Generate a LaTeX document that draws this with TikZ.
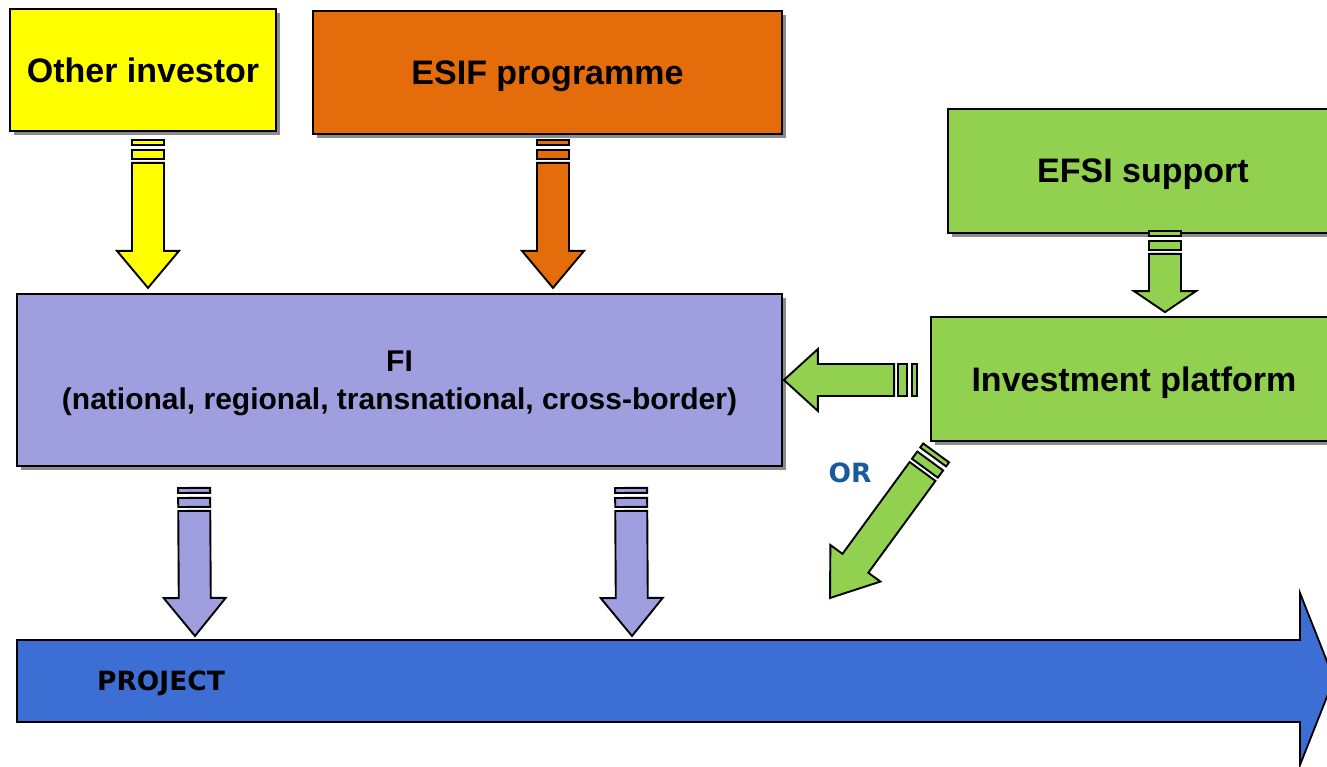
\documentclass[tikz,border=0pt]{standalone}
\usepackage{fontspec}
\setmainfont{Liberation Sans}
\newfontfamily\verd{DejaVu Sans}
\usetikzlibrary{calc,positioning,shadows}

\definecolor{invyellow}{HTML}{FFFF00}
\definecolor{esiforange}{HTML}{E46C0A}
\definecolor{efsigreen}{HTML}{92D050}
\definecolor{filav}{HTML}{9F9FDF}
\definecolor{projblue}{HTML}{3C6ED3}
\definecolor{orblue}{HTML}{1B5A9A}

% striped block arrow: fill colour, head length, from, to
\newcommand{\sarrow}[4]{%
  \path #3 coordinate (sa) #4 coordinate (sb);
  \pgfpointdiff{\pgfpointanchor{sa}{center}}{\pgfpointanchor{sb}{center}}%
  \pgfgetlastxy{\dx}{\dy}%
  \pgfmathsetmacro\ang{atan2(\dy,\dx)}%
  \pgfmathsetmacro\len{veclen(\dx,\dy)}%
  \pgfmathsetmacro\hb{\len-#2}%
  \begin{scope}[shift={(sa)}, rotate=\ang, fill=#1, draw=black, line width=1.9pt]
    \filldraw (0,-16) rectangle (5,16);
    \filldraw (10,-16) rectangle (19,16);
    \filldraw (23,-16) -- (\hb,-16) -- (\hb,-31) -- (\len,0) -- (\hb,31) -- (\hb,16) -- (23,16) -- cycle;
  \end{scope}}

\begin{document}
\begin{tikzpicture}[x=1pt, y=1pt,
  box/.style={draw=black, line width=1.8pt, inner sep=0pt, text depth=0pt, font=\fontsize{34}{40}\selectfont\bfseries,
    drop shadow={shadow xshift=4pt, shadow yshift=-4pt, fill=black!45, opacity=1}}]
  \useasboundingbox (0,0) rectangle (1327,-766);
  \clip (0,0) rectangle (1327,-766);

  \node[box, fill=invyellow, minimum width=266pt, minimum height=122pt] (oth) at (143,-70) {Other investor};
  \node[box, fill=esiforange, minimum width=469pt, minimum height=123pt] (esif) at (547.5,-72.5) {ESIF programme};
  \node[box, fill=efsigreen, minimum width=390pt, minimum height=124pt] (efsi) at (1143,-171) {EFSI support};
  \node[box, fill=efsigreen, minimum width=406pt, minimum height=124pt] (ip) at (1134,-379) {Investment platform};
  \node[box, fill=filav, minimum width=765pt, minimum height=172pt, align=center, font=\fontsize{30}{38}\selectfont\bfseries] (fi) at (399.5,-380)
    {FI\\(national, regional, transnational, cross-border)};

  \coordinate (pj) at (17,-640);
  \draw[fill=projblue, line width=1.8pt] (pj) -- ++(1283,0) -- ++(0,47) -- ++(34,-86) -- ++(-34,-86) -- ++(0,43) -- ++(-1283,0) -- cycle;
  \node[font=\verd\fontsize{26.5}{30}\selectfont\bfseries] (projtxt) at ($(pj)+(144,-43)$) {PROJECT};
  \node[font=\verd\fontsize{26.5}{30}\selectfont\bfseries, text=orblue] (or) at (850,-473) {OR};

  \sarrow{invyellow}{37}{($(oth.south)+(5,-8)$)}{($(oth.south)+(5,-156)$)}
  \sarrow{esiforange}{37}{($(esif.south)+(5.5,-5)$)}{($(esif.south)+(5.5,-153)$)}
  \sarrow{efsigreen}{21}{($(efsi.south)+(22,3)$)}{($(ip.north)+(31,4)$)}
  \sarrow{efsigreen}{34}{($(ip.west)+(-13,-1)$)}{($(fi.east)+(1,0)$)}
  \sarrow{efsigreen}{43}{($(ip.south west)+(6,-11)$)}{(830,-598)}
  \sarrow{filav}{38}{($(fi.south west)+(178,-21)$)}{($(pj)+(178,4)$)}
  \sarrow{filav}{38}{($(fi.south west)+(615,-21)$)}{($(pj)+(615,4)$)}
\end{tikzpicture}
\end{document}
